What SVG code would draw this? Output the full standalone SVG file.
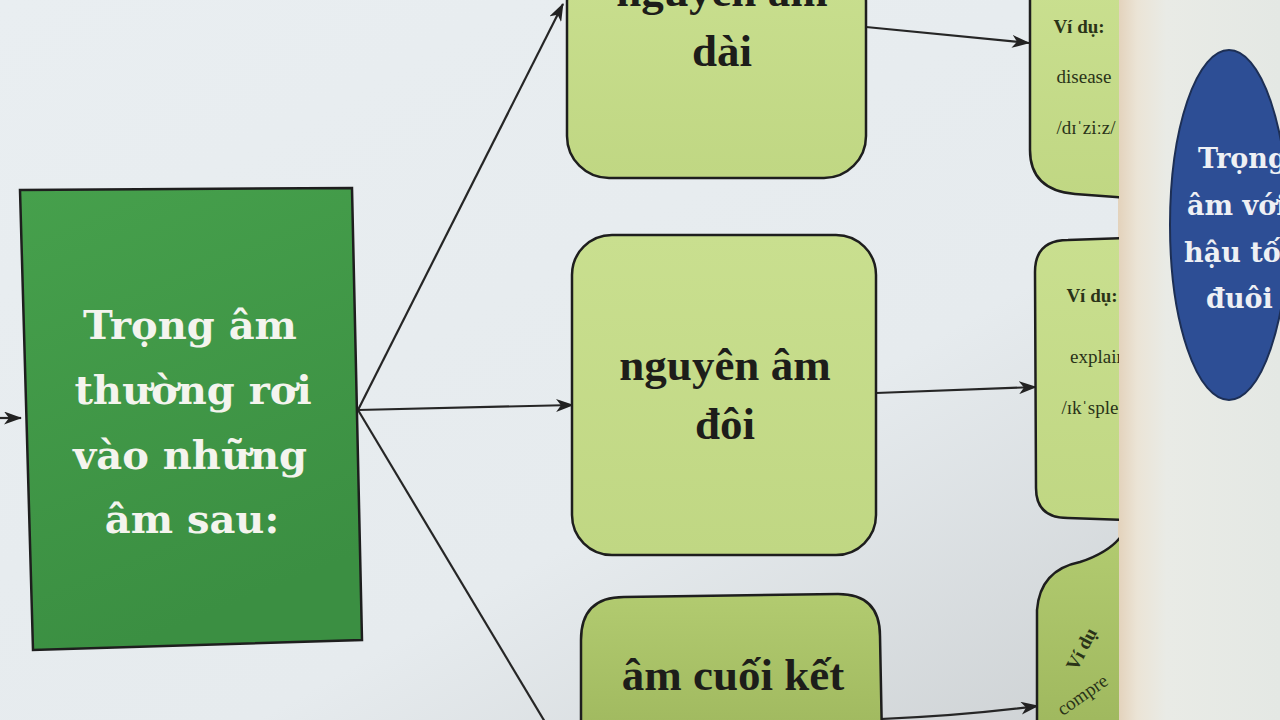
<svg xmlns="http://www.w3.org/2000/svg" width="1280" height="720" viewBox="0 0 1280 720">
<defs>
<linearGradient id="bg" x1="0" y1="0" x2="1" y2="1">
<stop offset="0" stop-color="#e9eef1"/>
<stop offset="0.6" stop-color="#e6ebee"/>
<stop offset="1" stop-color="#c9cdcf"/>
</linearGradient>
<linearGradient id="gr" x1="0" y1="0" x2="0.3" y2="1">
<stop offset="0" stop-color="#46a04c"/>
<stop offset="1" stop-color="#3b8f42"/>
</linearGradient>
<linearGradient id="lg" x1="0" y1="0" x2="0" y2="1">
<stop offset="0" stop-color="#c9df8f"/>
<stop offset="1" stop-color="#c0d783"/>
</linearGradient>
<linearGradient id="lg2" x1="0" y1="0" x2="0" y2="1">
<stop offset="0" stop-color="#b2cb70"/>
<stop offset="1" stop-color="#9fb85e"/>
</linearGradient>
<linearGradient id="page" x1="0" y1="0" x2="1" y2="0">
<stop offset="0" stop-color="#e3d2bb"/>
<stop offset="0.12" stop-color="#ebe4d6"/>
<stop offset="0.3" stop-color="#e9ebe6"/>
<stop offset="1" stop-color="#e4e8e4"/>
</linearGradient>
<clipPath id="leftpage"><rect x="0" y="0" width="1119" height="720"/></clipPath>
<marker id="ah" viewBox="0 0 18 13" refX="17" refY="6.5" markerWidth="18" markerHeight="13" markerUnits="userSpaceOnUse" orient="auto">
<path d="M0,0 L18,6.5 L0,13 L5,6.5 z" fill="#222"/>
</marker>
</defs>
<style>
.conn{stroke:#262626;stroke-width:2.2;fill:none;marker-end:url(#ah)}
.box{stroke:#1e1e1e;stroke-width:2.5}
.wt{font-family:"DejaVu Serif",serif;font-weight:bold;fill:#f4f4ee;text-anchor:middle}
.et{font-family:"DejaVu Serif",serif;font-weight:bold;fill:#eef0f4;font-size:27px}
.bt{font-family:"Liberation Serif",serif;font-weight:bold;fill:#1d1d1a;text-anchor:middle;font-size:45px}
.st{font-family:"Liberation Serif",serif;fill:#2a3318;text-anchor:middle;font-size:19px}
</style>
<rect width="1280" height="720" fill="url(#bg)"/>
<rect x="1118" y="0" width="162" height="720" fill="url(#page)"/>

<g id="connectors">
<line class="conn" x1="0" y1="418" x2="21" y2="418"/>
<line class="conn" x1="358" y1="410" x2="563" y2="4"/>
<line class="conn" x1="358" y1="410" x2="573" y2="405"/>
<line x1="358" y1="410" x2="545" y2="722" stroke="#262626" stroke-width="2.2"/>
<line class="conn" x1="866" y1="27" x2="1029" y2="43"/>
<line class="conn" x1="876" y1="393" x2="1036" y2="387"/>
<path class="conn" d="M880,719 Q960,716 1038,706"/>
</g>

<g id="main">
<polygon class="box" points="20,190 352,188 362,640 33,650" fill="url(#gr)"/>
<text class="wt" font-size="40" x="190" y="339">Trọng âm</text>
<text class="wt" font-size="40" x="193" y="404">thường rơi</text>
<text class="wt" font-size="40" x="190" y="469">vào những</text>
<text class="wt" font-size="40" x="192" y="533">âm sau:</text>
</g>

<g id="long-vowel">
<rect class="box" x="567" y="-40" width="299" height="218" rx="42" fill="url(#lg)"/>
<text class="bt" x="722" y="6">nguyên âm</text>
<text class="bt" x="722" y="66">dài</text>
</g>

<g id="diphthong">
<rect class="box" x="572" y="235" width="304" height="320" rx="40" fill="url(#lg)"/>
<text class="bt" x="725" y="380">nguyên âm</text>
<text class="bt" x="725" y="439">đôi</text>
</g>

<g id="final-consonant">
<path class="box" d="M581,740 L581,640 Q581,597 624,597 L838,594 Q880,594 880,636 L882,740 Z" fill="url(#lg2)"/>
<text class="bt" x="733" y="690">âm cuối kết</text>
</g>

<g clip-path="url(#leftpage)">
<g id="example-disease">
<path class="box" d="M1030,-10 L1030,150 Q1030,190 1075,194 L1130,198 L1130,-10 Z" fill="url(#lg)"/>
<text class="st" x="1079" y="33" font-weight="bold" font-size="17">Ví dụ:</text>
<text class="st" x="1084" y="83">disease</text>
<text class="st" x="1086" y="134">/dɪˈziːz/</text>
</g>
<g id="example-explain">
<path class="box" d="M1035,272 Q1035,240 1068,240 L1130,238 L1130,520 L1068,518 Q1036,518 1036,488 Z" fill="url(#lg)"/>
<text class="st" x="1092" y="302" font-weight="bold" font-size="17">Ví dụ:</text>
<text class="st" x="1098" y="363">explain</text>
<text class="st" x="1100" y="414">/ɪkˈspleɪn/</text>
</g>
<g id="example-compre">
<path class="box" d="M1037,730 L1037,610 Q1040,570 1080,562 Q1110,552 1122,535 L1130,730 Z" fill="url(#lg2)"/>
<text class="st" x="1087" y="652" font-weight="bold" font-size="17" transform="rotate(-62 1087 652)">Ví dụ</text>
<text class="st" x="1086" y="700" font-size="18" transform="rotate(-35 1086 700)">compre</text>
</g>
</g>

<g id="suffix">
<ellipse cx="1229" cy="225" rx="59" ry="175" fill="#2d4e95" stroke="#1d2f55" stroke-width="2"/>
<text class="et" x="1198" y="168">Trọng</text>
<text class="et" x="1187" y="215">âm với</text>
<text class="et" x="1184" y="262">hậu tố</text>
<text class="et" x="1206" y="308">đuôi</text>
</g>
</svg>
